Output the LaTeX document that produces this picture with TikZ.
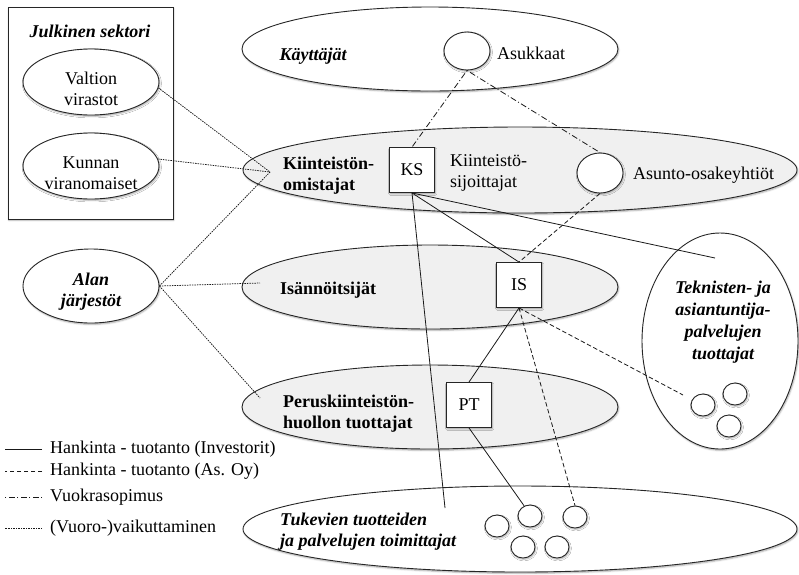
\documentclass[tikz,border=0pt]{standalone}
\usepackage{fontspec}
\setmainfont{Liberation Serif}
\usetikzlibrary{shapes.geometric,shadows.blur}

\begin{document}
\begin{tikzpicture}[x=1pt,y=-1pt,
  every node/.style={font=\fontsize{18}{21}\selectfont},
  shape base/.style={draw=black!85, line width=0.9pt, inner sep=0pt,
    blur shadow={shadow xshift=0.8pt, shadow yshift=-1.3pt,
      shadow blur radius=1.6pt, shadow opacity=35}},
  oval/.style={shape base, ellipse, fill=white},
  grayoval/.style={shape base, ellipse, fill=black!6},
  ring/.style={shape base, ellipse, fill=white,
    minimum width=24pt, minimum height=22pt},
  rolebox/.style={shape base, rectangle, fill=white, minimum size=45pt},
  lbl/.style={inner sep=0pt, align=left},
  ctr/.style={inner sep=0pt, align=center},
  bi/.style={font=\fontsize{18}{21}\selectfont\bfseries\itshape},
  bo/.style={font=\fontsize{18}{21}\selectfont\bfseries},
  invest/.style={line width=0.8pt, draw=black!90},
  asoy/.style={line width=0.8pt, draw=black!90, dash pattern=on 4.5pt off 2.5pt},
  lease/.style={line width=0.8pt, draw=black!90,
    dash pattern=on 1pt off 2.5pt on 6pt off 2.5pt},
  influence/.style={line width=0.75pt, draw=black!90, dash pattern=on 1.5pt off 1pt}
]
\useasboundingbox (0,0) rectangle (799,574);

% public sector frame
\node[shape base, rectangle, fill=white, minimum width=165pt,
  minimum height=212pt] (sektori) at (90.5,113) {};
\node[ctr, bi] (sektoriT) at (90,31) {Julkinen sektori};

% left-hand actors
\node[oval, minimum width=136pt, minimum height=66pt] (valtion) at (91,82) {};
\node[ctr] (valtionT) at (91,88.5) {Valtion\\virastot};
\node[oval, minimum width=136pt, minimum height=66pt] (kunnan) at (91,166) {};
\node[ctr] (kunnanT) at (91,173) {Kunnan\\viranomaiset};
\node[oval, minimum width=136pt, minimum height=74pt] (alan) at (91,286) {};
\node[ctr, bi] (alanT) at (91,292) {Alan\\järjestöt};

% layered actor groups
\node[oval, minimum width=376pt, minimum height=84pt] (kaytt) at (430,49) {};
\node[ctr, bi] (kayttT) at (313,56) {Käyttäjät};

\node[grayoval, minimum width=554pt, minimum height=86pt] (omist) at (520,170) {};
\node[lbl, bo, anchor=west] (omistT) at (283,175.5) {Kiinteistön-\\omistajat};

\node[grayoval, minimum width=376pt, minimum height=84pt] (isann) at (430,287) {};
\node[lbl, bo, anchor=west] (isannT) at (280,290) {Isännöitsijät};

\node[grayoval, minimum width=376pt, minimum height=84pt] (perus) at (430,407) {};
\node[lbl, bo, anchor=west] (perusT) at (283,414) {Peruskiinteistön-\\huollon tuottajat};

\node[oval, minimum width=554pt, minimum height=86pt] (tukev) at (520,529) {};
\node[lbl, bi, anchor=west] (tukevT) at (280,531.5) {Tukevien tuotteiden\\ja palvelujen toimittajat};

\node[oval, minimum width=156pt, minimum height=216pt] (tekn) at (720,341) {};
\node[ctr, bi, font=\fontsize{18}{22}\selectfont\bfseries\itshape] (teknT) at (723,322)
  {Teknisten- ja\\asiantuntija-\\palvelujen\\tuottajat};

% individual actors
\node[ring, minimum width=46pt, minimum height=38pt] (asuk) at (467,51) {};
\node[lbl, anchor=west] (asukT) at (497,53) {Asukkaat};
\node[ring, minimum width=46pt, minimum height=40pt] (aso) at (600,173) {};
\node[lbl, anchor=west] (asoT) at (633,175) {Asunto-osakeyhtiöt};
\node[lbl, anchor=west] (sijT) at (450,173) {Kiinteistö-\\sijoittajat};

\node[rolebox] (ks) at (412,170) {KS};
\node[rolebox] (is) at (519,285) {IS};
\node[rolebox] (pt) at (469,405) {PT};

% service providers
\node[ring] (tek1) at (703,405) {};
\node[ring] (tek2) at (735,394) {};
\node[ring] (tek3) at (729,426) {};
\node[ring] (tuk1) at (497,526) {};
\node[ring] (tuk2) at (530,516) {};
\node[ring] (tuk3) at (575,517) {};
\node[ring] (tuk4) at (523,547) {};
\node[ring] (tuk5) at (557,547) {};

% loose line ends
\coordinate (omHub) at (270,172);
\coordinate (isHub) at (260,283);
\coordinate (peHub) at (260,398);
\coordinate (tekIn) at (715,258);
\coordinate (tukIn) at (445,508);
\coordinate (tekEnd) at (683,395);

% influence
\draw[influence] (valtion.-5) -- (omHub);
\draw[influence] (kunnan.6) -- (omHub);
\draw[influence] (alan.east) -- (omHub);
\draw[influence] (alan.east) -- (isHub);
\draw[influence] (alan.east) -- (peHub);

% leases
\draw[lease] (asuk.south) -- (ks.north);
\draw[lease] (asuk.south) -- (aso.north);

% procurement - production
\draw[asoy] (aso.south) -- (is.north);
\draw[invest] (ks.south) -- (is.north);
\draw[invest] (ks.south) -- (tekIn);
\draw[invest] (ks.south) -- (tukIn);
\draw[invest] (is.south) -- (pt.north);
\draw[asoy] (is.south) -- (tuk3.north);
\draw[asoy] (is.south) -- (tekEnd);
\draw[invest] (pt.south) -- (tuk2.120);

% legend
\node[lbl, anchor=west] (lg1) at (50,449) {Hankinta - tuotanto (Investorit)};
\node[lbl, anchor=west] (lg2) at (50,471) {Hankinta - tuotanto (As. Oy)};
\node[lbl, anchor=west] (lg3) at (50,497) {Vuokrasopimus};
\node[lbl, anchor=west] (lg4) at (50,528) {(Vuoro-)vaikuttaminen};
\draw[invest] ([xshift=-8pt]lg1.west) -- ([xshift=-45pt]lg1.west);
\draw[asoy] ([xshift=-8pt]lg2.west) -- ([xshift=-45pt]lg2.west);
\draw[lease] ([xshift=-8pt]lg3.west) -- ([xshift=-45pt]lg3.west);
\draw[influence] ([xshift=-8pt]lg4.west) -- ([xshift=-45pt]lg4.west);
\end{tikzpicture}
\end{document}
